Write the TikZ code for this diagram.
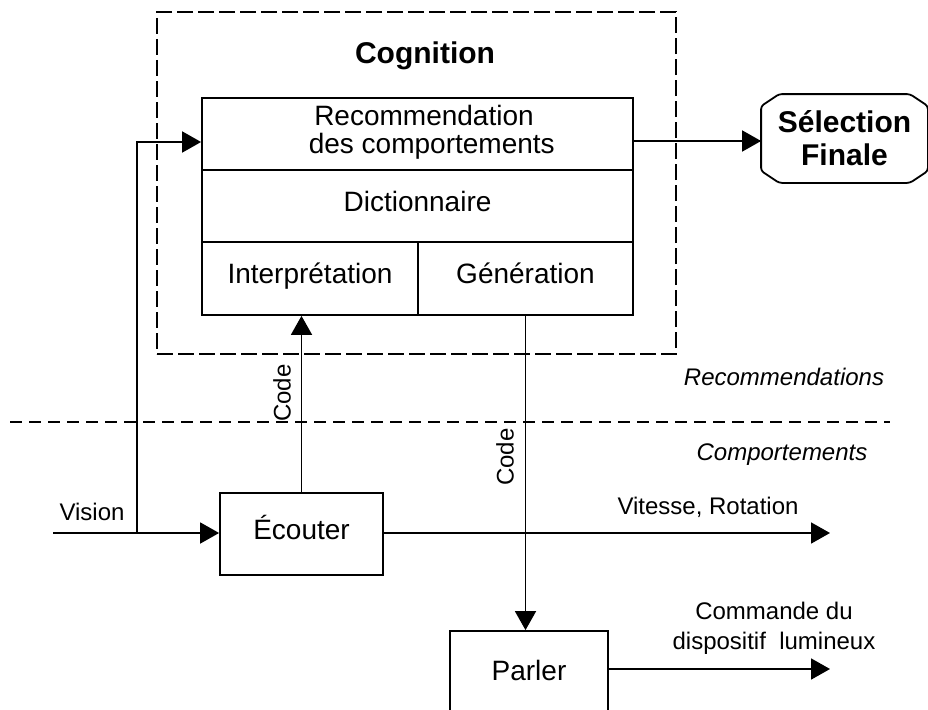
\documentclass[tikz,border=0pt]{standalone}
\usepackage{fontspec}
\setmainfont{Liberation Sans}
\usetikzlibrary{arrows.meta}
\begin{document}
\begin{tikzpicture}[x=1pt,y=-1pt,line width=1.8pt,
  cell/.style={draw,inner sep=0pt,font=\fontsize{28}{28}\selectfont,align=center},
  oneline/.style={text height=18pt,text depth=8pt},
  lbl/.style={inner sep=0pt,font=\fontsize{24}{30}\selectfont,align=center},
  ttl/.style={inner sep=0pt,font=\fontsize{30}{33}\selectfont\bfseries,align=center},
  arr/.style={-{Triangle[length=19pt,width=21pt]}},
  groupline/.style={dash pattern=on 16pt off 5pt},
  layerline/.style={dash pattern=on 12pt off 7pt}]
\useasboundingbox (0,0) rectangle (928,709);
\clip (0,0) rectangle (928,709);

% cognition group
\node[draw,groupline,minimum width=519pt,minimum height=342pt] (cogbox) at (416.5,183) {};
\node[ttl] (cogtitle) at (425,56) {Cognition};

% cells of the cognition block
\node[cell,minimum width=431pt,minimum height=72pt] (rec) at (417.5,134) {};
\node[inner sep=0pt,font=\fontsize{28}{28}\selectfont,align=center] (rectext) at (424,132)
  {Recommendation\\ \ \ des comportements};
\node[cell,oneline,minimum width=431pt,minimum height=72pt] (dic) at (417.5,206) {Dictionnaire};
\node[cell,oneline,minimum width=216pt,minimum height=73pt] (int) at (310,278.5) {Interprétation};
\node[cell,oneline,minimum width=215pt,minimum height=73pt] (gen) at (525.5,278.5) {Génération};

% final selection
\node[inner sep=0pt,minimum width=165pt,minimum height=87pt,ttl] (sel) at (844.5,138.5)
  {Sélection\\Finale};
\draw[rounded corners=3pt]
  ([xshift=18pt]sel.north west) -- ([xshift=-18pt]sel.north east)
  -- ([yshift=-12pt]sel.north east) -- ([yshift=12pt]sel.south east)
  -- ([xshift=-18pt]sel.south east) -- ([xshift=18pt]sel.south west)
  -- ([yshift=12pt]sel.south west) -- ([yshift=-12pt]sel.north west) -- cycle;

% behaviour modules
\node[cell,oneline,minimum width=163pt,minimum height=82pt] (ecouter) at (301.5,534) {Écouter};
\node[cell,oneline,minimum width=158pt,minimum height=88pt] (parler) at (529,675) {Parler};

% layer separator
\coordinate (dl) at (10,422);
\coordinate (dr) at (890,422);
\draw[layerline] (dl) -- (dr);
\node[lbl,font=\fontsize{24}{30}\selectfont\itshape] (reclayer) at (784,377) {Recommendations};
\node[lbl,font=\fontsize{24}{30}\selectfont\itshape] (comlayer) at (782,455) {Comportements};

% connectors
\coordinate (vin) at (53,533);
\coordinate (vj) at (137,533);
\draw[arr] (vin) -- (vin -| ecouter.west);
\draw[arr] (vj) |- ([yshift=-8pt]rec.west);
\node[lbl] (vision) at (92,512) {Vision};

\coordinate (ro) at ([yshift=-7pt]rec.east);
\draw[arr] (ro) -- (ro -| sel.west);

\draw[arr] (ecouter.north) -- (ecouter.north |- int.south);
\node[lbl,rotate=90] (code1) at (282,393) {Code};

\draw[arr] (gen.south) -- (gen.south |- parler.north);
\node[lbl,rotate=90] (code2) at (505,457) {Code};

\coordinate (vout) at (830,533);
\draw[arr] (vout -| ecouter.east) -- (vout);
\node[lbl] (vitesse) at (708,507) {Vitesse, Rotation};

\coordinate (pout) at (830,669);
\draw[arr] (parler.east |- pout) -- (pout);
\node[lbl] (commande) at (774,628) {Commande du\\dispositif\ \ lumineux};
\end{tikzpicture}
\end{document}
